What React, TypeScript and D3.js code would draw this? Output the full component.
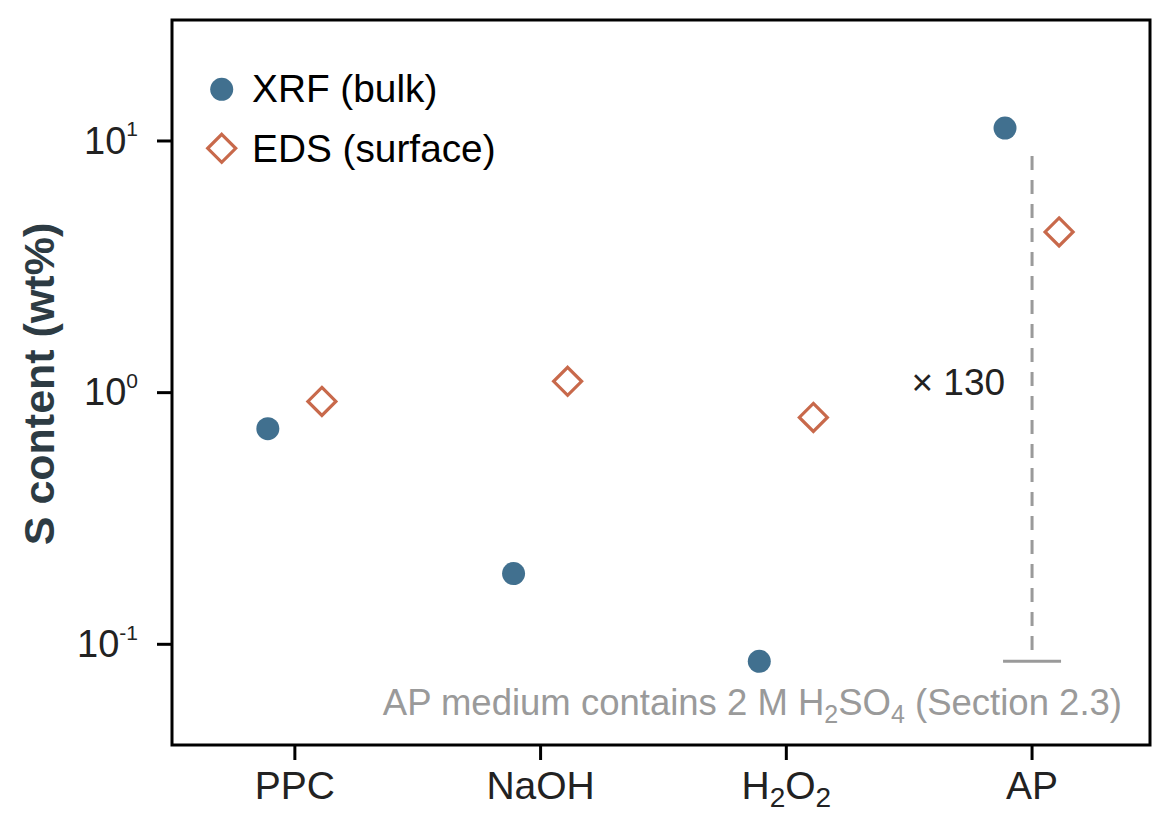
import * as d3 from 'd3';

// categories and measured S content (wt%)
const categories = ['PPC', 'NaOH', 'H2O2', 'AP'];
const xrfBulk = [0.719, 0.191, 0.0856, 11.25];
const edsSurface = [0.923, 1.109, 0.797, 4.35];
const yTickExps = [-1, 0, 1];
const foldLabel = '× 130';

const W = 1174;
const H = 824;
const FONT = '"Liberation Sans", Arial, Helvetica, sans-serif';
const BLUE = '#41708f';
const ORANGE = '#c8694b';
const GREY = '#9a9a9a';
const INK = '#222222';

// formula like H2SO4 -> letters normal, digits as subscripts; always ends back on baseline
function chemSpans(formula: string, sub: number, shift: number) {
  const parts = formula.match(/[A-Za-z]+|\d+/g) || [];
  let down = false;
  const out = parts.map((p, i) => {
    const isNum = /\d/.test(p);
    let dy = 0;
    if (isNum && !down) { dy = shift; down = true; }
    else if (!isNum && down) { dy = -shift; down = false; }
    return <tspan key={i} dy={dy} fontSize={isNum ? sub : undefined}>{p}</tspan>;
  });
  return { spans: out, reset: down ? -shift : 0 };
}

export default function App() {
  const left = 172, right = 1150, top = 20, bottom = 745;

  const x = d3.scaleLinear().domain([-0.5, 3.48]).range([left, right]);
  const y = d3.scaleLog().domain([0.0398, 30.25]).range([bottom, top]);
  const off = 0.11;

  const apIdx = categories.indexOf('AP');
  const hiV = d3.max(xrfBulk) as number;
  const loV = d3.min(xrfBulk) as number;
  const bx = x(apIdx);
  const bTop = y(hiV) + 28;
  const bBot = y(loV);
  const mid = y(Math.sqrt(hiV * loV));

  const diamond = (cx: number, cy: number, r: number) =>
    `M${cx},${cy - r}L${cx + r},${cy}L${cx},${cy + r}L${cx - r},${cy}Z`;

  const note = chemSpans('H2SO4', 25, 8);

  return (
    <svg width={W} height={H} style={{ position: 'absolute', left: 0, top: 0, background: '#fff' }}
      fontFamily={FONT}>
      <rect x={0} y={0} width={W} height={H} fill="#fff" />

      {/* y ticks */}
      {yTickExps.map(e => {
        const ty = y(Math.pow(10, e));
        return (
          <g key={e}>
            <line x1={left - 15} x2={left} y1={ty} y2={ty} stroke="#000" strokeWidth={3} />
            <text x={138} y={ty + 12.7} textAnchor="end" fontSize={38} fill={INK}>
              10<tspan dy={-17.5} fontSize={21}>{e}</tspan>
            </text>
          </g>
        );
      })}

      {/* x ticks */}
      {categories.map((c, i) => (
        <g key={c}>
          <line x1={x(i)} x2={x(i)} y1={bottom} y2={bottom + 15} stroke="#000" strokeWidth={3} />
          <text x={x(i)} y={799} textAnchor="middle" fontSize={39} fill={INK}>
            {/\d/.test(c) ? chemSpans(c, 28, 8).spans : c}
          </text>
        </g>
      ))}

      <text transform={`translate(54,384) rotate(-90)`} textAnchor="middle" fontSize={43}
        fontWeight="bold" fill="#2d3b43">S content (wt%)</text>

      {/* fold-change bracket */}
      <line x1={bx} x2={bx} y1={bTop} y2={bBot} stroke={GREY} strokeWidth={3} strokeDasharray="14,10" />
      <line x1={bx - 29} x2={bx + 29} y1={bBot} y2={bBot} stroke={GREY} strokeWidth={3} />
      <text x={bx - 27} y={mid} textAnchor="end" fontSize={37} fill={INK}>{foldLabel}</text>

      {/* points */}
      {xrfBulk.map((v, i) => (
        <circle key={`x${i}`} cx={x(i - off)} cy={y(v)} r={11.5} fill={BLUE} />
      ))}
      {edsSurface.map((v, i) => (
        <path key={`e${i}`} d={diamond(x(i + off), y(v), 14)} fill="none" stroke={ORANGE} strokeWidth={3.2} />
      ))}

      {/* note */}
      <text x={1122} y={715} textAnchor="end" fontSize={36.5} fill={GREY}>
        AP medium contains 2 M {note.spans}<tspan dy={note.reset}> (Section 2.3)</tspan>
      </text>

      {/* legend */}
      <circle cx={221.7} cy={89.3} r={11.5} fill={BLUE} />
      <text x={252} y={101.7} fontSize={38.8} fill="#000">XRF (bulk)</text>
      <path d={diamond(221.7, 148.3, 14)} fill="none" stroke={ORANGE} strokeWidth={3.2} />
      <text x={252} y={161.7} fontSize={38.8} fill="#000">EDS (surface)</text>

      {/* frame */}
      <rect x={left} y={top} width={right - left} height={bottom - top} fill="none" stroke="#000" strokeWidth={3} />
    </svg>
  );
}
